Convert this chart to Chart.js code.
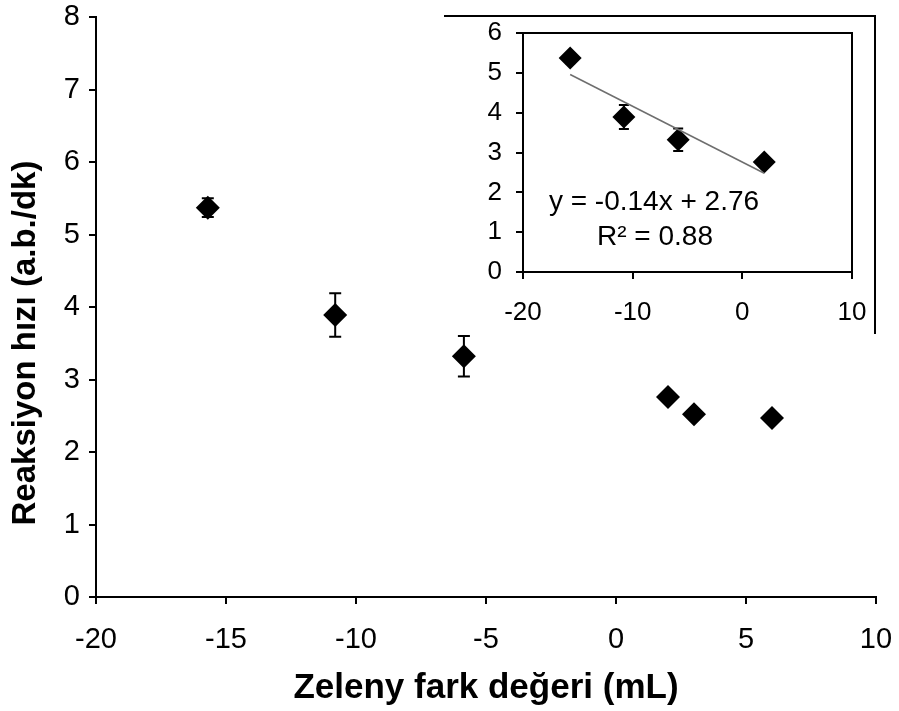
<!DOCTYPE html>
<html>
<head>
<meta charset="utf-8">
<script src="https://cdn.jsdelivr.net/npm/chart.js@4.4.1/dist/chart.umd.min.js"></script>
<style>
  html, body { margin: 0; padding: 0; background: #fff; }
  #wrap { position: relative; width: 899px; height: 711px; }
  #main { position: absolute; left: 0; top: 0; }
  #inset { position: absolute; left: 440px; top: 0; }
</style>
</head>
<body>
<div id="wrap">
  <canvas id="main" width="899" height="711"></canvas>
  <canvas id="inset" width="459" height="350"></canvas>
</div>
<script>
// Zeleny difference (mL) vs. reaction rate (a.b./dk)
const zelenyDiff = [-15.7, -10.8, -5.85, 2, 3, 6];
const reactionRate = [5.37, 3.89, 3.32, 2.76, 2.52, 2.47];
const rateError = [0.13, 0.30, 0.28, 0, 0, 0];

// Inset: the four samples used for the linear fit
const fitDiff = [-15.7, -10.8, -5.85, 2];
const fitRate = [5.37, 3.89, 3.32, 2.76];
const fitError = [0.13, 0.30, 0.28, 0];
const fitSlope = -0.14;
const fitIntercept = 2.76;
const fitR2 = 0.88;

const mainXTicks = [-20, -15, -10, -5, 0, 5, 10];
const mainYTicks = [0, 1, 2, 3, 4, 5, 6, 7, 8];
const insetXTicks = [-20, -10, 0, 10];
const insetYTicks = [0, 1, 2, 3, 4, 5, 6];

const xTitle = 'Zeleny fark değeri (mL)';
const yTitle = 'Reaksiyon hızı (a.b./dk)';

const FONT = "'Liberation Sans', Arial, sans-serif";

function points(xs, ys) {
  return xs.map((x, i) => ({ x: x, y: ys[i] }));
}

// Vertical error bars with caps, drawn beneath the markers
function errorBarPlugin(errors, capHalf, lineWidth) {
  return {
    id: 'errorBars',
    beforeDatasetsDraw(chart) {
      const ctx = chart.ctx;
      const xs = chart.scales.x, ys = chart.scales.y;
      const data = chart.data.datasets[0].data;
      ctx.save();
      ctx.strokeStyle = '#000';
      ctx.lineWidth = lineWidth;
      data.forEach((p, i) => {
        const e = errors[i];
        if (!e) return;
        const px = xs.getPixelForValue(p.x);
        const top = ys.getPixelForValue(p.y + e);
        const bot = ys.getPixelForValue(p.y - e);
        ctx.beginPath();
        ctx.moveTo(px, top); ctx.lineTo(px, bot);
        ctx.moveTo(px - capHalf, top); ctx.lineTo(px + capHalf, top);
        ctx.moveTo(px - capHalf, bot); ctx.lineTo(px + capHalf, bot);
        ctx.stroke();
      });
      ctx.restore();
    }
  };
}

function ticksFrom(values) {
  return function (scale) {
    scale.ticks = values.map(v => ({ value: v }));
  };
}

// fixed axis sizes; end labels may overhang the plot area
function fixedHeight(h) {
  return function (scale) {
    scale.height = h;
    scale.paddingLeft = 0;
    scale.paddingRight = 0;
  };
}
function fixedWidth(w) {
  return function (scale) {
    scale.width = w;
    scale.paddingTop = 0;
    scale.paddingBottom = 0;
  };
}

// ---- main chart ----
const yTitlePlugin = {
  id: 'yTitle',
  afterDraw(chart) {
    const ctx = chart.ctx;
    ctx.save();
    ctx.translate(26, 343);
    ctx.rotate(-Math.PI / 2);
    ctx.font = 'bold 33px ' + FONT;
    ctx.fillStyle = '#000';
    ctx.textAlign = 'center';
    ctx.textBaseline = 'middle';
    ctx.fillText(yTitle, 0, 0);
    ctx.restore();
  }
};

new Chart(document.getElementById('main'), {
  type: 'scatter',
  data: {
    datasets: [{
      data: points(zelenyDiff, reactionRate),
      pointStyle: 'rectRot',
      pointRadius: 12,
      pointHoverRadius: 12,
      backgroundColor: '#000',
      borderWidth: 0
    }]
  },
  options: {
    responsive: false,
    animation: false,
    events: [],
    layout: { padding: { top: 17, right: 23, bottom: 0, left: 0 } },
    plugins: { legend: { display: false }, tooltip: { enabled: false } },
    scales: {
      x: {
        type: 'linear', min: -20, max: 10,
        afterBuildTicks: ticksFrom(mainXTicks),
        afterFit: fixedHeight(114),
        border: { display: true, color: '#000', width: 2 },
        grid: { drawOnChartArea: false, drawTicks: true, tickLength: 7, color: '#000', lineWidth: 2 },
        ticks: { color: '#000', padding: 19, maxRotation: 0, font: { family: FONT, size: 29 } },
        title: {
          display: true, text: xTitle, color: '#000',
          font: { family: FONT, size: 35, weight: 'bold' },
          padding: { top: 0, bottom: 2 }
        }
      },
      y: {
        type: 'linear', min: 0, max: 8,
        afterBuildTicks: ticksFrom(mainYTicks),
        afterFit: fixedWidth(96),
        border: { display: true, color: '#000', width: 2 },
        grid: { drawOnChartArea: false, drawTicks: true, tickLength: 7, color: '#000', lineWidth: 2 },
        ticks: { color: '#000', padding: 9, font: { family: FONT, size: 29 } }
      }
    }
  },
  plugins: [errorBarPlugin(rateError, 6, 2), yTitlePlugin]
});

// ---- inset: fit of the first four samples ----
const fitXs = [Math.min(...fitDiff), Math.max(...fitDiff)];
const trendPoints = fitXs.map(x => ({ x: x, y: fitSlope * x + fitIntercept }));

const insetFramePlugin = {
  id: 'insetFrame',
  afterDraw(chart) {
    const ctx = chart.ctx;
    const a = chart.chartArea;
    ctx.save();
    ctx.strokeStyle = '#000';
    ctx.lineWidth = 2;
    ctx.strokeRect(a.left, a.top, a.right - a.left, a.bottom - a.top);
    // outer frame of the inset panel (top and right edges)
    ctx.beginPath();
    ctx.moveTo(4, 16);
    ctx.lineTo(435, 16);
    ctx.lineTo(435, 334);
    ctx.stroke();
    // fit equation
    ctx.fillStyle = '#000';
    ctx.font = '28px ' + FONT;
    ctx.textAlign = 'center';
    ctx.textBaseline = 'middle';
    const eq = 'y = ' + fitSlope.toFixed(2) + 'x + ' + fitIntercept.toFixed(2);
    ctx.fillText(eq, 214, 202);
    ctx.fillText('R\u00B2 = ' + fitR2.toFixed(2), 215, 237);
    ctx.restore();
  }
};

new Chart(document.getElementById('inset'), {
  type: 'scatter',
  data: {
    datasets: [{
      data: points(fitDiff, fitRate),
      pointStyle: 'rectRot',
      pointRadius: 11.5,
      pointHoverRadius: 11.5,
      backgroundColor: '#000',
      borderWidth: 0,
      order: 1
    }, {
      type: 'line',
      data: trendPoints,
      borderColor: '#6e6e6e',
      borderWidth: 1.5,
      pointRadius: 0,
      fill: false,
      order: 0
    }]
  },
  options: {
    responsive: false,
    animation: false,
    events: [],
    layout: { padding: { top: 33, right: 47, bottom: 0, left: 0 } },
    plugins: { legend: { display: false }, tooltip: { enabled: false } },
    scales: {
      x: {
        type: 'linear', min: -20, max: 10,
        afterBuildTicks: ticksFrom(insetXTicks),
        afterFit: fixedHeight(78),
        border: { display: true, color: '#000', width: 2 },
        grid: { drawOnChartArea: false, drawTicks: true, tickLength: 7, color: '#000', lineWidth: 2 },
        ticks: { color: '#000', padding: 18, maxRotation: 0, font: { family: FONT, size: 26 } }
      },
      y: {
        type: 'linear', min: 0, max: 6,
        afterBuildTicks: ticksFrom(insetYTicks),
        afterFit: fixedWidth(83),
        border: { display: true, color: '#000', width: 2 },
        grid: { drawOnChartArea: false, drawTicks: true, tickLength: 7, color: '#000', lineWidth: 2 },
        ticks: { color: '#000', padding: 14, font: { family: FONT, size: 26 } }
      }
    }
  },
  plugins: [errorBarPlugin(fitError, 5, 2), insetFramePlugin]
});
</script>
</body>
</html>
